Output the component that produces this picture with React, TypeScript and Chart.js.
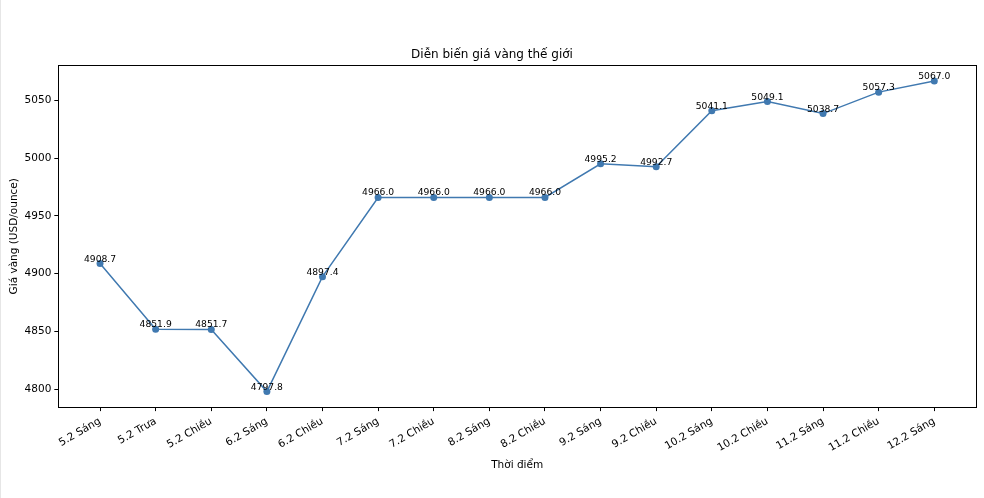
import React, { useEffect, useRef } from "react";
import { Chart, registerables } from "chart.js";

Chart.register(...registerables);

const categories = [
  "5.2 Sáng", "5.2 Trưa", "5.2 Chiều", "6.2 Sáng", "6.2 Chiều", "7.2 Sáng",
  "7.2 Chiều", "8.2 Sáng", "8.2 Chiều", "9.2 Sáng", "9.2 Chiều", "10.2 Sáng",
  "10.2 Chiều", "11.2 Sáng", "11.2 Chiều", "12.2 Sáng",
];
const prices = [
  4908.7, 4851.9, 4851.7, 4797.8, 4897.4, 4966.0, 4966.0, 4966.0, 4966.0,
  4995.2, 4992.7, 5041.1, 5049.1, 5038.7, 5057.3, 5067.0,
];
const yTicks = [4800, 4850, 4900, 4950, 5000, 5050];

const FONT = "'DejaVu Sans', sans-serif";
const LINE_COLOR = "#4079b0";

const frameAndLabels = {
  id: "frameAndLabels",
  afterDatasetsDraw(chart: any) {
    const { ctx, chartArea } = chart;
    ctx.save();
    ctx.strokeStyle = "#000";
    ctx.lineWidth = 1;
    ctx.strokeRect(
      Math.round(chartArea.left) + 0.5,
      Math.round(chartArea.top) + 0.5,
      Math.round(chartArea.right - chartArea.left),
      Math.round(chartArea.bottom - chartArea.top)
    );
    const meta = chart.getDatasetMeta(0);
    ctx.fillStyle = "#000";
    ctx.font = `9.2px ${FONT}`;
    ctx.textAlign = "center";
    ctx.textBaseline = "alphabetic";
    meta.data.forEach((pt: any, i: number) => {
      ctx.fillText(prices[i].toFixed(1), pt.x, pt.y - 2);
    });
    ctx.restore();
  },
};

export default function App() {
  const ref = useRef<HTMLCanvasElement | null>(null);
  useEffect(() => {
    if (!ref.current) return;
    const dmin = Math.min(...prices);
    const dmax = Math.max(...prices);
    const m = (dmax - dmin) * 0.05;
    const n = categories.length - 1;
    const chart = new Chart(ref.current, {
      type: "line",
      data: {
        datasets: [
          {
            data: prices.map((v, i) => ({ x: i, y: v })),
            borderColor: LINE_COLOR,
            backgroundColor: LINE_COLOR,
            borderWidth: 1.5,
            pointRadius: 3.5,
            pointHoverRadius: 3.5,
            pointBorderWidth: 0,
            tension: 0,
          },
        ],
      },
      options: {
        animation: false,
        responsive: true,
        maintainAspectRatio: false,
        layout: { padding: { top: 10, right: 8, bottom: 0, left: 7 } },
        plugins: {
          legend: { display: false },
          tooltip: { enabled: false },
          title: {
            display: true,
            text: "Diễn biến giá vàng thế giới",
            color: "#000",
            font: { family: FONT, size: 12, weight: "normal" },
            padding: { top: 38, bottom: 3 },
          },
        },
        scales: {
          x: {
            type: "linear",
            min: -n * 0.05,
            max: n * 1.05,
            afterBuildTicks: (axis: any) => {
              axis.ticks = categories.map((_, i) => ({ value: i }));
            },
            ticks: {
              autoSkip: false,
              maxRotation: 30,
              minRotation: 30,
              color: "#000",
              font: { family: FONT, size: 10.5 },
              padding: 4,
              callback: (v: any) => categories[Math.round(Number(v))] ?? "",
            },
            grid: {
              display: true,
              drawOnChartArea: false,
              drawTicks: true,
              tickLength: 4,
              color: "#000",
            },
            border: { display: true, color: "#000" },
            title: {
              display: true,
              text: "Thời điểm",
              color: "#000",
              font: { family: FONT, size: 10.5 },
              padding: { top: 1, bottom: 26 },
            },
          },
          y: {
            type: "linear",
            min: dmin - m,
            max: dmax + m,
            afterBuildTicks: (axis: any) => {
              axis.ticks = yTicks.map((v) => ({ value: v }));
            },
            ticks: {
              color: "#000",
              font: { family: FONT, size: 10.5 },
              padding: 3,
              callback: (v: any) => String(v),
            },
            grid: {
              display: true,
              drawOnChartArea: false,
              drawTicks: true,
              tickLength: 4,
              color: "#000",
            },
            border: { display: true, color: "#000" },
            title: {
              display: true,
              text: "Giá vàng (USD/ounce)",
              color: "#000",
              font: { family: FONT, size: 10.5 },
              padding: { top: 0, bottom: 1 },
            },
          },
        },
      },
      plugins: [frameAndLabels],
    });
    return () => chart.destroy();
  }, []);
  return (
    <div
      style={{
        position: "fixed",
        left: 0,
        top: 0,
        width: 984,
        height: 498,
        background: "#fff",
        borderLeft: "1px solid #e6e6e6",
        boxSizing: "border-box",
      }}
    >
      <canvas ref={ref} />
    </div>
  );
}
